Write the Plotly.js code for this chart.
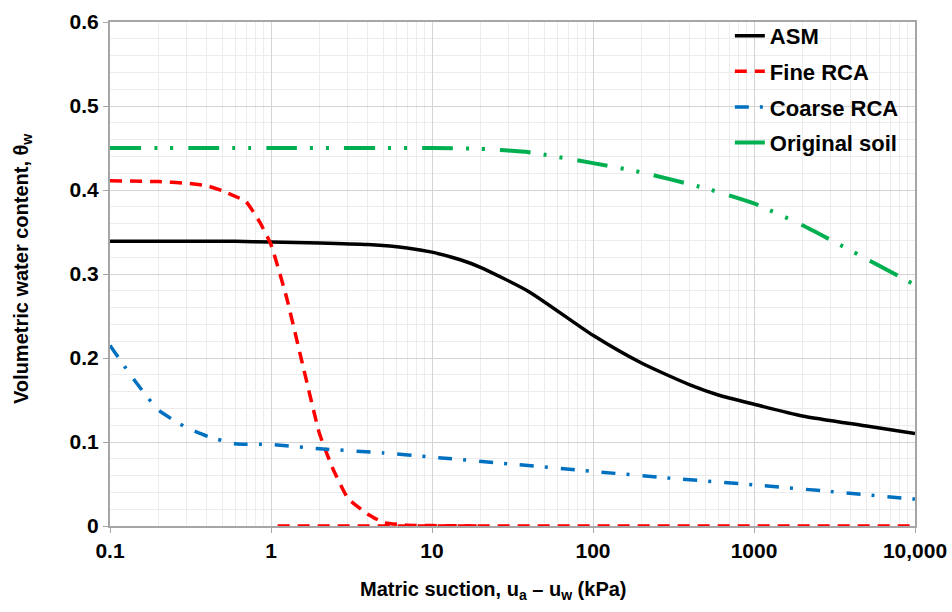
<!DOCTYPE html>
<html>
<head>
<meta charset="utf-8">
<script src="https://cdn.plot.ly/plotly-3.0.1.min.js"></script>
<style>
  html, body { margin: 0; padding: 0; background: #fff; }
  #chart { width: 952px; height: 612px; }
</style>
</head>
<body>
<div id="chart"></div>
<script>
// suction values (kPa) and volumetric water content
var asm_x = [0.1, 0.3, 0.6, 1, 2, 4, 7, 10, 15, 20, 40, 100, 200, 400, 600, 1000, 2000, 5000, 10000];
var asm_y = [0.339, 0.339, 0.339, 0.338, 0.337, 0.335, 0.331, 0.326, 0.317, 0.308, 0.279, 0.227, 0.194, 0.168, 0.156, 0.145, 0.131, 0.119, 0.110];

var fine_x = [0.1, 0.2, 0.3, 0.4, 0.5, 0.7, 0.85, 1, 1.25, 1.6, 2, 2.4, 3, 4, 5, 7, 10, 20];
var fine_y = [0.411, 0.410, 0.408, 0.405, 0.399, 0.386, 0.362, 0.335, 0.272, 0.186, 0.110, 0.070, 0.033, 0.014, 0.004, 0.001, 0.0005, 0];

var fine_tail_x = [1.1, 10, 100, 1000, 10000];
var fine_tail_y = [0, 0, 0, 0, 0];

var coarse_x = [0.1, 0.14, 0.2, 0.3, 0.4, 0.6, 1, 2, 5, 10, 30, 100, 300, 1000, 3000, 10000];
var coarse_y = [0.215, 0.175, 0.138, 0.117, 0.107, 0.098, 0.097, 0.092, 0.087, 0.082, 0.074, 0.065, 0.057, 0.049, 0.041, 0.032];

var soil_x = [0.1, 1, 10, 20, 40, 100, 200, 500, 1000, 2000, 5000, 10000];
var soil_y = [0.45, 0.45, 0.45, 0.449, 0.445, 0.432, 0.421, 0.402, 0.384, 0.358, 0.318, 0.287];

var x_ticks = [0.1, 1, 10, 100, 1000, 10000];
var x_labels = ['0.1', '1', '10', '100', '1000', '10,000'];

var minor_x = [];
for (var d = 0.1; d < 10000; d *= 10) {
    for (var k = 2; k <= 9; k++) {
        minor_x.push(d * k);
    }
}

var font = 'Liberation Sans, Arial, sans-serif';

var data = [
    {
        x: asm_x, y: asm_y, name: 'ASM', legendgroup: 'a',
        mode: 'lines', line: {color: '#000000', width: 3.5, shape: 'spline', smoothing: 0.6}
    },
    {
        x: fine_x, y: fine_y, name: 'Fine RCA', legendgroup: 'b',
        mode: 'lines', line: {color: '#ff0000', width: 3.5, dash: '12px,8px', shape: 'spline', smoothing: 0.4}
    },
    {
        x: fine_tail_x, y: fine_tail_y, name: 'Fine RCA', legendgroup: 'b', showlegend: false,
        mode: 'lines', line: {color: '#ff0000', width: 3.5, dash: '12px,8px'}
    },
    {
        x: coarse_x, y: coarse_y, name: 'Coarse RCA', legendgroup: 'c',
        mode: 'lines', line: {color: '#0070c0', width: 3.5, dash: '14px,11px,3px,13px', shape: 'spline', smoothing: 0.5}
    },
    {
        x: soil_x, y: soil_y, name: 'Original soil', legendgroup: 'd',
        mode: 'lines', line: {color: '#00b050', width: 4, dash: '31px,13px,3px,13px,3px,15px', shape: 'spline', smoothing: 0.5}
    }
];

var layout = {
    width: 952,
    height: 612,
    margin: {l: 110, r: 37, t: 22, b: 86},
    paper_bgcolor: '#ffffff',
    plot_bgcolor: '#ffffff',
    font: {family: font, color: '#000000'},
    showlegend: true,
    legend: {
        x: 0.77, y: 1.014, xanchor: 'left', yanchor: 'top',
        bgcolor: 'rgba(255,255,255,0)',
        font: {family: font, size: 22, weight: 'bold'},
        tracegroupgap: 4,
        traceorder: 'grouped'
    },
    xaxis: {
        type: 'log',
        range: [-1, 4],
        tickmode: 'array',
        tickvals: x_ticks,
        ticktext: x_labels,
        tickfont: {family: font, size: 21, weight: 'bold'},
        ticks: 'outside', ticklen: 5, tickcolor: '#a6a6a6',
        showline: true, linecolor: '#a6a6a6', linewidth: 2, mirror: true,
        showgrid: true, gridcolor: '#d4d4d4', gridwidth: 1,
        minor: {tickmode: 'array', tickvals: minor_x, showgrid: true, gridcolor: '#ececec', ticks: ''},
        zeroline: false
    },
    yaxis: {
        range: [0, 0.6],
        tickvals: [0, 0.1, 0.2, 0.3, 0.4, 0.5, 0.6],
        ticktext: ['0', '0.1', '0.2', '0.3', '0.4', '0.5', '0.6'],
        tickfont: {family: font, size: 21, weight: 'bold'},
        ticks: 'outside', ticklen: 5, tickcolor: '#a6a6a6',
        showline: true, linecolor: '#a6a6a6', linewidth: 2, mirror: true,
        showgrid: true, gridcolor: '#d4d4d4', gridwidth: 1,
        minor: {dtick: 0.02, showgrid: true, gridcolor: '#ececec', ticks: ''},
        zeroline: false
    },
    annotations: [
        {
            text: 'Matric suction, u<sub>a</sub> \u2013 u<sub>w</sub> (kPa)',
            xref: 'paper', yref: 'paper', x: 0.5, y: 0,
            xanchor: 'center', yanchor: 'middle',
            xshift: 493 - 512.5, yshift: -(590 - 526),
            showarrow: false,
            font: {family: font, size: 20, weight: 'bold'}
        },
        {
            text: 'Volumetric water content, \u03b8<sub>w</sub>',
            xref: 'paper', yref: 'paper', x: 0, y: 0.5,
            xanchor: 'center', yanchor: 'middle',
            xshift: -(110 - 22), yshift: 274 - 269,
            textangle: -90,
            showarrow: false,
            font: {family: font, size: 20, weight: 'bold'}
        }
    ]
};

Plotly.newPlot('chart', data, layout, {displayModeBar: false, staticPlot: true});
</script>
</body>
</html>
